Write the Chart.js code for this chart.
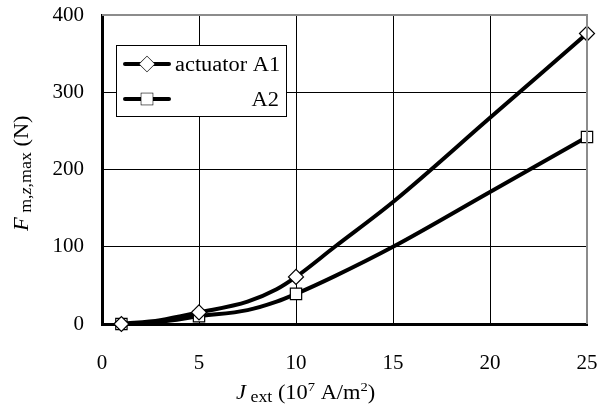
<!DOCTYPE html>
<html>
<head>
<meta charset="utf-8">
<script src="https://cdn.jsdelivr.net/npm/chart.js@4"></script>
<style>
  html, body { margin: 0; padding: 0; background: #fff; }
  #wrap { width: 600px; height: 412px; }
</style>
</head>
<body>
<div id="wrap"><canvas id="chart" width="600" height="412"></canvas></div>
<script>
// ---- data ----
const markerX = [1, 5, 10, 25];
const a1Markers = [0, 15, 61, 376];
const a2Markers = [0, 10, 39, 242];

// curve points
const curveX = [1, 3, 5, 7.5, 9, 10, 12, 15, 20, 25];
const a1Curve = [0, 5, 15, 29, 45, 61, 100, 158, 267, 376];
const a2Curve = [0, 3, 10, 18, 29, 39, 62, 100, 171, 242];

const legendNames = ["actuator A1", "A2"];

const SERIF = '"Liberation Serif", "Times New Roman", serif';
const STRETCH = 1.12; // reference text is a bit wider than tall

const toXY = (xs, ys) => xs.map((x, i) => ({ x: x, y: ys[i] }));

// draws a run of [text, font, dy] pieces, stretched horizontally
function drawRun(ctx, pieces, x, y) {
  ctx.save();
  ctx.translate(x, y);
  ctx.scale(STRETCH, 1);
  let pos = 0;
  pieces.forEach(([t, f, dy]) => {
    ctx.font = f;
    ctx.fillText(t, pos, dy);
    pos += ctx.measureText(t).width;
  });
  ctx.restore();
  return pos * STRETCH;
}

// ---- legend + axis titles + outer frame ----
const extras = {
  id: 'extras',
  afterDraw(chart) {
    const ctx = chart.ctx;
    const area = chart.chartArea;
    ctx.save();

    // gray top / right frame
    ctx.strokeStyle = '#8c8c8c';
    ctx.lineWidth = 2;
    ctx.beginPath();
    ctx.moveTo(area.left, area.top);
    ctx.lineTo(area.right, area.top);
    ctx.lineTo(area.right, area.bottom);
    ctx.stroke();

    // legend box
    const lx = 116, ly = 45, lw = 170, lh = 71;
    ctx.fillStyle = '#fff';
    ctx.fillRect(lx, ly, lw, lh);
    ctx.strokeStyle = '#000';
    ctx.lineWidth = 1;
    ctx.strokeRect(lx + 0.5, ly + 0.5, lw, lh);

    const rows = [64, 99];
    const styles = ['rectRot', 'rect'];
    const radii = [7.5, 8];
    rows.forEach((yy, i) => {
      ctx.strokeStyle = '#000';
      ctx.lineWidth = 4;
      ctx.lineCap = 'round';
      ctx.beginPath();
      ctx.moveTo(125, yy);
      ctx.lineTo(169, yy);
      ctx.stroke();
      ctx.fillStyle = '#fff';
      ctx.lineWidth = 1.2;
      Chart.helpers.drawPoint(ctx, { pointStyle: styles[i], radius: radii[i], borderWidth: 1.2 }, 147, yy);
      ctx.fill();
      ctx.fillStyle = '#000';
      ctx.textAlign = 'left';
      ctx.textBaseline = 'alphabetic';
      const piece = [[legendNames[i], '20px ' + SERIF, 0]];
      if (i === 0) {
        drawRun(ctx, piece, 175, yy + 7);
      } else {
        ctx.font = '20px ' + SERIF;
        const w = ctx.measureText(legendNames[i]).width * STRETCH;
        drawRun(ctx, piece, 279 - w, yy + 7);
      }
    });

    // x axis title: J_ext (10^7 A/m^2)
    ctx.fillStyle = '#000';
    ctx.textAlign = 'left';
    ctx.textBaseline = 'alphabetic';
    drawRun(ctx, [
      ['J', 'italic 20px ' + SERIF, 0],
      [' ext', '16px ' + SERIF, 3],
      [' (10', '20px ' + SERIF, 0],
      ['7', '13px ' + SERIF, -8],
      [' A/m', '20px ' + SERIF, 0],
      ['2', '13px ' + SERIF, -8],
      [')', '20px ' + SERIF, 0]
    ], 236, 399);

    // y axis title: F_m,z,max (N)
    ctx.translate(28, 231);
    ctx.rotate(-Math.PI / 2);
    drawRun(ctx, [
      ['F', 'italic 20px ' + SERIF, 0],
      [' m,', '16px ' + SERIF, 3],
      ['z', 'italic 16px ' + SERIF, 3],
      [',max', '16px ' + SERIF, 3],
      [' (N)', '20px ' + SERIF, 0]
    ], 0, 0);

    ctx.restore();
  }
};

const lineDs = (data) => ({
  data: data,
  borderColor: '#000',
  borderWidth: 4,
  pointRadius: 0,
  cubicInterpolationMode: 'monotone',
  fill: false,
  order: 2
});

const markerDs = (data, style, r) => ({
  data: data,
  showLine: false,
  pointStyle: style,
  pointRadius: r,
  pointBackgroundColor: '#fff',
  pointBorderColor: '#000',
  pointBorderWidth: 1.2,
  order: 1
});

new Chart(document.getElementById('chart'), {
  type: 'line',
  data: {
    datasets: [
      lineDs(toXY(curveX, a1Curve)),
      lineDs(toXY(curveX, a2Curve)),
      markerDs(toXY(markerX, a1Markers), 'rectRot', 7.5),
      markerDs(toXY(markerX, a2Markers), 'rect', 8)
    ]
  },
  options: {
    responsive: false,
    animation: false,
    clip: false,
    layout: { padding: { top: 15, right: 13, left: 0, bottom: 0 } },
    plugins: {
      legend: { display: false },
      tooltip: { enabled: false }
    },
    scales: {
      x: {
        type: 'linear',
        min: 0,
        max: 25,
        ticks: { stepSize: 5, color: '#000', font: { family: SERIF, size: 21 }, padding: 27, maxRotation: 0 },
        grid: {
          color: (c) => (c.tick && c.tick.value === 25 ? 'rgba(0,0,0,0)' : '#000'),
          lineWidth: 1,
          drawTicks: false
        },
        border: { color: '#000', width: 3 },
        afterFit: (s) => { s.height = 88; s.paddingLeft = 0; s.paddingRight = 0; }
      },
      y: {
        min: 0,
        max: 400,
        ticks: { stepSize: 100, color: '#000', font: { family: SERIF, size: 21 }, padding: 18 },
        grid: {
          color: (c) => (c.tick && c.tick.value === 400 ? 'rgba(0,0,0,0)' : '#000'),
          lineWidth: 1,
          drawTicks: false
        },
        border: { color: '#000', width: 3 },
        afterFit: (s) => { s.width = 102; s.paddingTop = 0; s.paddingBottom = 0; }
      }
    }
  },
  plugins: [extras]
});
</script>
</body>
</html>
